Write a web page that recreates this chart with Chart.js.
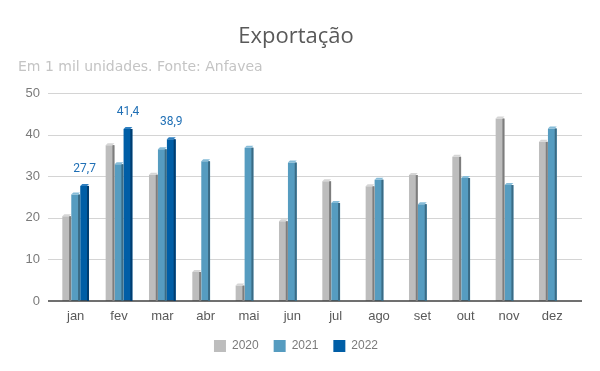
<!DOCTYPE html>
<html lang="pt-BR">
<head>
  <meta charset="UTF-8" />
  <title>Exportação</title>
  <script src="https://cdn.jsdelivr.net/npm/chart.js"></script>
  <style>
    html, body { margin: 0; padding: 0; background: #fff; }
    #box { width: 600px; height: 371px; }
  </style>
</head>
<body>
  <div id="box"><canvas id="grafico"></canvas></div>

  <script>
    // dados (mil unidades)
    var meses = ["jan", "fev", "mar", "abr", "mai", "jun", "jul", "ago", "set", "out", "nov", "dez"];
    var anos = ["2020", "2021", "2022"];
    var valores2020 = [20.4, 37.5, 30.4, 7.0, 3.7, 19.2, 28.8, 27.6, 30.3, 34.7, 43.9, 38.3];
    var valores2021 = [25.6, 32.9, 36.5, 33.6, 36.9, 33.3, 23.6, 29.2, 23.3, 29.6, 27.9, 41.5];
    var valores2022 = [27.7, 41.4, 38.9, null, null, null, null, null, null, null, null, null];
    var ticksY = [0, 10, 20, 30, 40, 50];

    var cores = ["#bdbdbd", "#569cc0", "#005ea6"];
    var coresLado = ["#7d7d7d", "#3a6b85", "#003d70"];
    var coresTopo = ["#d6d6d6", "#86bcd8", "#2f7fc0"];

    // linhas de grade um pouco mais largas que a área das barras
    var grade = {
      id: "grade",
      beforeDatasetsDraw: function (chart) {
        var ctx = chart.ctx;
        var y = chart.scales.y;
        ctx.save();
        ctx.strokeStyle = "#d4d4d4";
        ctx.lineWidth = 1;
        ticksY.forEach(function (v) {
          if (v === 0) return;
          var py = Math.round(y.getPixelForValue(v)) + 0.5;
          ctx.beginPath();
          ctx.moveTo(48, py);
          ctx.lineTo(582, py);
          ctx.stroke();
        });
        ctx.restore();
      },
      afterDatasetsDraw: function (chart) {
        var ctx = chart.ctx;
        var py = chart.scales.y.getPixelForValue(0);
        ctx.save();
        ctx.strokeStyle = "#404040";
        ctx.lineWidth = 1.5;
        ctx.beginPath();
        ctx.moveTo(48, py);
        ctx.lineTo(582, py);
        ctx.stroke();
        ctx.restore();
      }
    };

    // efeito 3d simples: lado escuro e topo claro
    var efeito3d = {
      id: "efeito3d",
      afterDatasetsDraw: function (chart) {
        var ctx = chart.ctx;
        chart.data.datasets.forEach(function (ds, i) {
          var meta = chart.getDatasetMeta(i);
          if (meta.hidden) return;
          meta.data.forEach(function (bar, j) {
            if (ds.data[j] === null) return;
            var esq = bar.x - bar.width / 2;
            var dir = bar.x + bar.width / 2;
            ctx.save();
            ctx.fillStyle = coresLado[i];
            ctx.fillRect(dir - 2, bar.y, 2, bar.base - bar.y);
            ctx.fillStyle = coresTopo[i];
            ctx.beginPath();
            ctx.moveTo(esq, bar.y);
            ctx.lineTo(esq + 2, bar.y - 2);
            ctx.lineTo(dir, bar.y - 2);
            ctx.lineTo(dir - 2, bar.y);
            ctx.closePath();
            ctx.fill();
            ctx.restore();
          });
        });
      }
    };

    // rótulos só na série 2022
    var rotulos = {
      id: "rotulos",
      afterDatasetsDraw: function (chart) {
        var ctx = chart.ctx;
        var meta = chart.getDatasetMeta(2);
        ctx.save();
        ctx.font = "12px Roboto";
        ctx.fillStyle = "#1f6fb5";
        ctx.textAlign = "center";
        ctx.textBaseline = "middle";
        meta.data.forEach(function (bar, j) {
          var v = valores2022[j];
          if (v === null) return;
          ctx.fillText(v.toFixed(1).replace(".", ","), bar.x, bar.y - 17);
        });
        ctx.restore();
      }
    };

    new Chart(document.getElementById("grafico"), {
      type: "bar",
      data: {
        labels: meses,
        datasets: [
          { label: anos[0], data: valores2020, backgroundColor: cores[0] },
          { label: anos[1], data: valores2021, backgroundColor: cores[1] },
          { label: anos[2], data: valores2022, backgroundColor: cores[2] }
        ]
      },
      options: {
        responsive: true,
        maintainAspectRatio: false,
        animation: false,
        layout: { padding: { left: 18, right: 26, top: 0, bottom: 9 } },
        datasets: { bar: { categoryPercentage: 0.62, barPercentage: 0.98 } },
        plugins: {
          title: {
            display: true,
            text: "Exportação",
            color: "#595959",
            font: { family: "'Open Sans'", size: 22, weight: "normal" },
            padding: { top: 24, bottom: 9 }
          },
          subtitle: {
            display: true,
            text: "Em 1 mil unidades. Fonte: Anfavea",
            align: "start",
            color: "#c4c4c4",
            font: { family: "'DejaVu Sans'", size: 14, weight: "normal" },
            padding: { top: 0, bottom: 17 }
          },
          legend: {
            position: "bottom",
            labels: {
              boxWidth: 12,
              boxHeight: 12,
              color: "#7a7a7a",
              font: { family: "'Liberation Sans'", size: 12 },
              padding: 15
            }
          },
          tooltip: { enabled: false }
        },
        scales: {
          x: {
            grid: { display: false, drawTicks: false },
            border: { display: false },
            afterFit: function (scale) { scale.height = 24; },
            ticks: { color: "#595959", font: { family: "'Liberation Sans'", size: 13 }, padding: 8 }
          },
          y: {
            min: ticksY[0],
            max: ticksY[ticksY.length - 1],
            afterFit: function (scale) { scale.width = 36; },
            afterBuildTicks: function (scale) {
              scale.ticks = ticksY.map(function (v) { return { value: v }; });
            },
            grid: { display: false, drawTicks: false },
            border: { display: false },
            ticks: { color: "#7a7a7a", font: { family: "'Liberation Sans'", size: 13 }, padding: 14 }
          }
        }
      },
      plugins: [grade, efeito3d, rotulos]
    });
  </script>
</body>
</html>
